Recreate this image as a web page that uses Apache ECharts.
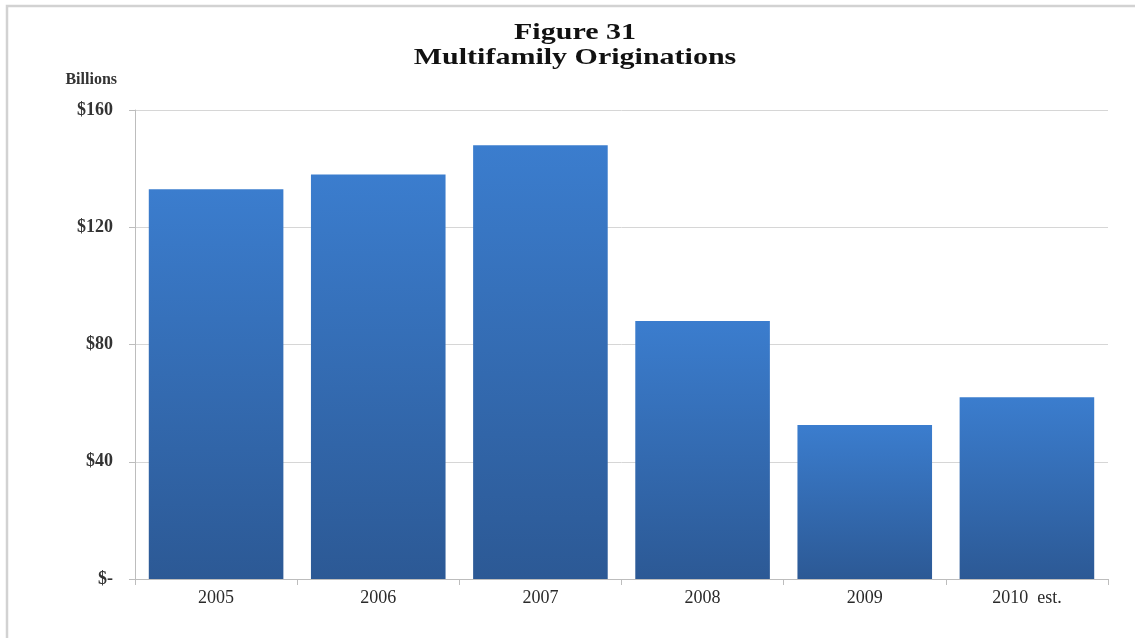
<!DOCTYPE html>
<html>
<head>
<meta charset="utf-8">
<script src="https://cdn.jsdelivr.net/npm/echarts@6/dist/echarts.min.js"></script>
<style>
  html, body { margin: 0; padding: 0; background: #fff; }
  #chart { width: 1135px; height: 638px; }
</style>
</head>
<body>
<div id="chart"></div>
<script>
// values, $ billions
var years = ['2005', '2006', '2007', '2008', '2009', '2010  est.'];
var originations = [133, 138, 148, 88, 52.5, 62];
var yTicks = { 0: '$-', 40: '$40', 80: '$80', 120: '$120', 160: '$160' };
var titleLines = ['Figure 31', 'Multifamily Originations'];

var myChart = echarts.init(document.getElementById('chart'));

var serif = '"Liberation Serif", "DejaVu Serif", serif';

// the source picture is stretched sideways, so the title is widened a bit
function titleText(str, y) {
	return {
		type: 'text',
		x: 575,
		y: y,
		scaleX: 1.25,
		silent: true,
		style: {
			text: str,
			font: 'bold 24px ' + serif,
			fill: '#111',
			align: 'center',
			verticalAlign: 'middle',
			textAlign: 'center',
			textVerticalAlign: 'middle'
		}
	};
}

var option = {
	backgroundColor: '#fff',
	animation: false,
	graphic: [
		{
			type: 'rect',
			shape: { x: 7, y: 6, width: 1140, height: 650 },
			style: { fill: 'none', stroke: '#d2d2d2', lineWidth: 2.5 },
			silent: true
		},
		titleText(titleLines[0], 33),
		titleText(titleLines[1], 58)
	],
	grid: {
		left: 135,
		right: 27,
		top: 110,
		bottom: 59
	},
	xAxis: {
		type: 'category',
		data: years,
		axisLine: { lineStyle: { color: '#bdbdbd', width: 1 } },
		axisTick: { show: true, length: 6, lineStyle: { color: '#bdbdbd' } },
		axisLabel: {
			margin: 10,
			fontFamily: serif,
			fontSize: 18,
			color: '#2a2a2a'
		}
	},
	yAxis: {
		type: 'value',
		min: 0,
		max: 160,
		interval: 40,
		name: 'Billions',
		nameLocation: 'end',
		nameGap: 22,
		nameTextStyle: {
			fontFamily: serif,
			fontSize: 16,
			fontWeight: 'bold',
			color: '#333',
			align: 'right',
			padding: [0, 18, 0, 0]
		},
		axisLine: { show: true, lineStyle: { color: '#bdbdbd', width: 1 } },
		axisTick: { show: true, inside: false, length: 6, lineStyle: { color: '#bdbdbd' } },
		splitLine: { lineStyle: { color: '#d6d6d6', width: 1 } },
		axisLabel: {
			margin: 22,
			fontFamily: serif,
			fontSize: 18,
			fontWeight: 'bold',
			color: '#333',
			formatter: function (v) { return yTicks[v]; }
		}
	},
	series: [
		{
			type: 'bar',
			data: originations,
			barCategoryGap: '17%',
			itemStyle: {
				color: new echarts.graphic.LinearGradient(0, 0, 0, 1, [
					{ offset: 0, color: '#3b7dce' },
					{ offset: 1, color: '#2c5995' }
				])
			}
		}
	]
};

myChart.setOption(option);
</script>
</body>
</html>
